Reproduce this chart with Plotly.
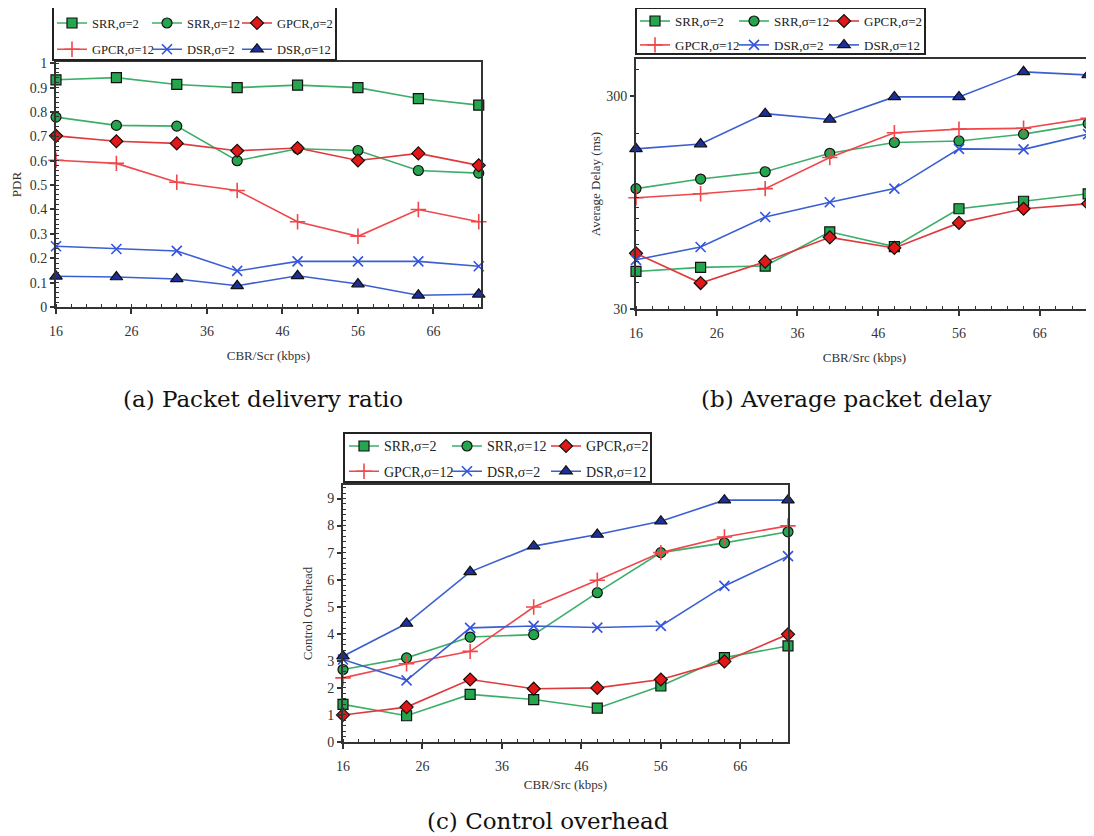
import plotly.graph_objects as go

W, H = 1094, 836
OFF = 8  # page body margin of the html page

# ---------------- data ----------------
x_kbps = [16, 24, 32, 40, 48, 56, 64, 72]
series_names = ["SRR,σ=2", "SRR,σ=12", "GPCR,σ=2", "GPCR,σ=12", "DSR,σ=2", "DSR,σ=12"]

# (a) Packet delivery ratio
pdr_srr2 = [0.932, 0.941, 0.913, 0.900, 0.910, 0.900, 0.855, 0.828]
pdr_srr12 = [0.779, 0.745, 0.742, 0.600, 0.649, 0.642, 0.560, 0.549]
pdr_gpcr2 = [0.702, 0.680, 0.671, 0.641, 0.652, 0.601, 0.630, 0.581]
pdr_gpcr12 = [0.602, 0.589, 0.512, 0.478, 0.350, 0.290, 0.400, 0.350]
pdr_dsr2 = [0.249, 0.238, 0.230, 0.148, 0.187, 0.187, 0.187, 0.167]
pdr_dsr12 = [0.126, 0.123, 0.115, 0.087, 0.128, 0.094, 0.048, 0.052]

# (b) Average packet delay (ms)
dly_srr2 = [45, 47, 47.7, 69, 58.8, 88.5, 96, 104]
dly_srr12 = [110, 122, 132, 161, 181, 184, 198, 222]
dly_gpcr2 = [54.7, 39.7, 50, 65, 58, 76, 88.5, 93.5]
dly_gpcr12 = [99.6, 104, 110, 154, 201, 209, 211, 235]
dly_dsr2 = [51, 58.6, 81, 95, 110, 169, 168, 198]
dly_dsr12 = [169, 178, 247, 232, 296, 296, 388, 375]

# (c) Control overhead
ovh_srr2 = [1.39, 0.97, 1.76, 1.57, 1.25, 2.07, 3.12, 3.55]
ovh_srr12 = [2.68, 3.11, 3.88, 3.97, 5.52, 7.00, 7.36, 7.77]
ovh_gpcr2 = [1.00, 1.29, 2.31, 1.97, 2.00, 2.31, 2.98, 3.98]
ovh_gpcr12 = [2.37, 2.89, 3.35, 4.99, 5.98, 7.00, 7.58, 7.99]
ovh_dsr2 = [3.05, 2.28, 4.22, 4.29, 4.23, 4.29, 5.77, 6.87]
ovh_dsr12 = [3.17, 4.38, 6.29, 7.24, 7.67, 8.16, 8.94, 8.94]

x_tickvals = [16, 26, 36, 46, 56, 66]
delay_tickvals = [30, 300]
delay_minor = [40, 50, 60, 70, 80, 90, 100, 200, 400]

# ---------------- styles ----------------
styles = [
    dict(line="#3dae6a", symbol="square", fill="#25a64e", size=10, olw=1.2),
    dict(line="#3dae6a", symbol="circle", fill="#25a64e", size=10, olw=1.2),
    dict(line="#e0393b", symbol="diamond", fill="#e01818", size=10, olw=1.2),
    dict(line="#f0474a", symbol="cross-thin", fill="#f0474a", size=11, olw=1.6),
    dict(line="#3b5fd0", symbol="x-thin", fill="#3353e0", size=10, olw=1.6),
    dict(line="#3b5fd0", symbol="triangle-up", fill="#1c2f9c", size=11, olw=1.2),
]
# legend column for each series (3 columns x 2 rows, filled row-wise)
series_col = [0, 1, 2, 0, 1, 2]

FONT = "Liberation Serif"
AX = "#333333"

fig = go.Figure()

panels = [
    ("a", [pdr_srr2, pdr_srr12, pdr_gpcr2, pdr_gpcr12, pdr_dsr2, pdr_dsr12], "x", "y"),
    ("b", [dly_srr2, dly_srr12, dly_gpcr2, dly_gpcr12, dly_dsr2, dly_dsr12], "x2", "y2"),
    ("c", [ovh_srr2, ovh_srr12, ovh_gpcr2, ovh_gpcr12, ovh_dsr2, ovh_dsr12], "x3", "y3"),
]

legend_ids = ["legend"] + [f"legend{k}" for k in range(2, 10)]

for p, (tag, series, xa, ya) in enumerate(panels):
    for i, (name, ys) in enumerate(zip(series_names, series)):
        st = styles[i]
        thin = st["symbol"].endswith("thin")
        marker = dict(
            symbol=st["symbol"], size=st["size"], color=st["fill"],
            line=dict(color=st["fill"] if thin else "#111111", width=st["olw"]),
        )
        fig.add_trace(go.Scatter(
            x=x_kbps, y=ys, name=name, mode="lines+markers",
            line=dict(color=st["line"], width=1.6),
            marker=marker, xaxis=xa, yaxis=ya,
            legend=legend_ids[p * 3 + series_col[i]],
            legendgroup=f"{tag}{i}",
            cliponaxis=False,
        ))


def px_x(px):
    return (px - OFF) / W


def px_y(py):
    return 1 - (py - OFF) / H


tickfont = dict(family=FONT, size=14, color=AX)
titlefont = dict(family=FONT, size=13, color=AX)


def xaxis(domain, rng, anchor):
    return dict(
        domain=domain, range=rng, anchor=anchor,
        tickvals=x_tickvals, ticks="outside", ticklen=5, tickwidth=1.5, tickcolor=AX,
        ticklabelstandoff=5,
        minor=dict(dtick=2, tick0=16, ticks="inside", ticklen=3, tickwidth=1, tickcolor=AX),
        showline=True, linecolor=AX, linewidth=2, mirror=True,
        showgrid=False, zeroline=False, tickfont=tickfont,
    )


# panel geometry (pixels)
A = dict(l=56, r=481, t=62, b=307)
B = dict(l=636, r=1093, t=59, b=309)
C = dict(l=343, r=788, t=485, b=742)

fig.update_layout(
    width=W, height=H, margin=dict(l=0, r=0, t=0, b=0, autoexpand=False),
    paper_bgcolor="white", plot_bgcolor="white",
    showlegend=True,
    xaxis=dict(**xaxis([px_x(A["l"]), px_x(A["r"])], [16, 72.3], "y"),
               title=dict(text="CBR/Scr (kbps)", font=titlefont, standoff=13)),
    yaxis=dict(domain=[px_y(A["b"]), px_y(A["t"])], range=[0, 1.005], anchor="x",
               dtick=0.1, tick0=0, ticks="outside", ticklen=4, tickwidth=1.5, tickcolor=AX,
               minor=dict(dtick=0.02, ticks="inside", ticklen=3, tickwidth=1, tickcolor=AX),
               showline=True, linecolor=AX, linewidth=2, mirror=True,
               showgrid=False, zeroline=False, tickfont=tickfont,
               title=dict(text="PDR", font=titlefont, standoff=5)),
    xaxis2=dict(**xaxis([px_x(B["l"]), px_x(B["r"])], [16, 72.6], "y2"),
                title=dict(text="CBR/Src (kbps)", font=titlefont, standoff=13)),
    yaxis2=dict(domain=[px_y(B["b"]), px_y(B["t"])], type="log",
                range=[1.4771, 2.649], anchor="x2",
                tickvals=delay_tickvals, ticks="outside", ticklen=4, tickwidth=1.5, tickcolor=AX,
                minor=dict(tickvals=delay_minor, ticks="inside", ticklen=3, tickwidth=1, tickcolor=AX),
                showline=True, linecolor=AX, linewidth=2, mirror=True,
                showgrid=False, zeroline=False, tickfont=tickfont,
                title=dict(text="Average Delay (ms)", font=titlefont, standoff=3)),
    xaxis3=dict(**xaxis([px_x(C["l"]), px_x(C["r"])], [16, 72], "y3"),
                title=dict(text="CBR/Src (kbps)", font=titlefont, standoff=7)),
    yaxis3=dict(domain=[px_y(C["b"]), px_y(C["t"])], range=[0, 9.5], anchor="x3",
                dtick=1, tick0=0, ticks="outside", ticklen=4, tickwidth=1.5, tickcolor=AX,
                minor=dict(dtick=0.2, ticks="inside", ticklen=3, tickwidth=1, tickcolor=AX),
                showline=True, linecolor=AX, linewidth=2, mirror=True,
                showgrid=False, zeroline=False, tickfont=tickfont,
                title=dict(text="Control Overhead", font=titlefont, standoff=12)),
)

# legends: one per column (legend x, first-row centre y, row gap, font size)
leg_cols = [
    (52, 22, 7, 12.5), (147, 22, 7, 12.5), (237, 22, 7, 12.5),
    (635, 20, 4, 13), (734, 20, 4, 13), (824, 20, 4, 13),
    (344, 445, 4, 14), (447, 445, 4, 14), (546, 445, 4, 14),
]
for key, (lx, ly, gap, fs) in zip(legend_ids, leg_cols):
    top = ly - (fs * 1.3 + 3) / 2 - 4
    fig.update_layout({key: dict(
        x=px_x(lx), y=px_y(top), xanchor="left", yanchor="top",
        orientation="v", itemwidth=30,
        bgcolor="rgba(0,0,0,0)", borderwidth=0,
        font=dict(family=FONT, size=fs, color="#222222"),
        tracegroupgap=gap, itemclick=False, itemdoubleclick=False,
    )})

# legend frames
frames = [(53, 7, 336, 60), (636, 8, 925, 54), (344, 433, 651, 482)]
for x0, y0, x1, y1 in frames:
    fig.add_shape(type="rect", xref="paper", yref="paper",
                  x0=px_x(x0), x1=px_x(x1), y0=px_y(y1), y1=px_y(y0),
                  line=dict(color="#222222", width=2), fillcolor="rgba(0,0,0,0)")

# captions
capfont = dict(family="DejaVu Serif", size=23, color="#111111")
captions = [("(a) Packet delivery ratio", 263, 399),
            ("(b) Average packet delay", 846, 399),
            ("(c) Control overhead", 548, 821)]
for text, cx, cy in captions:
    fig.add_annotation(text=text, x=px_x(cx), y=px_y(cy), xref="paper", yref="paper",
                       showarrow=False, xanchor="center", yanchor="middle", font=capfont)

fig.write_html("out.html")
